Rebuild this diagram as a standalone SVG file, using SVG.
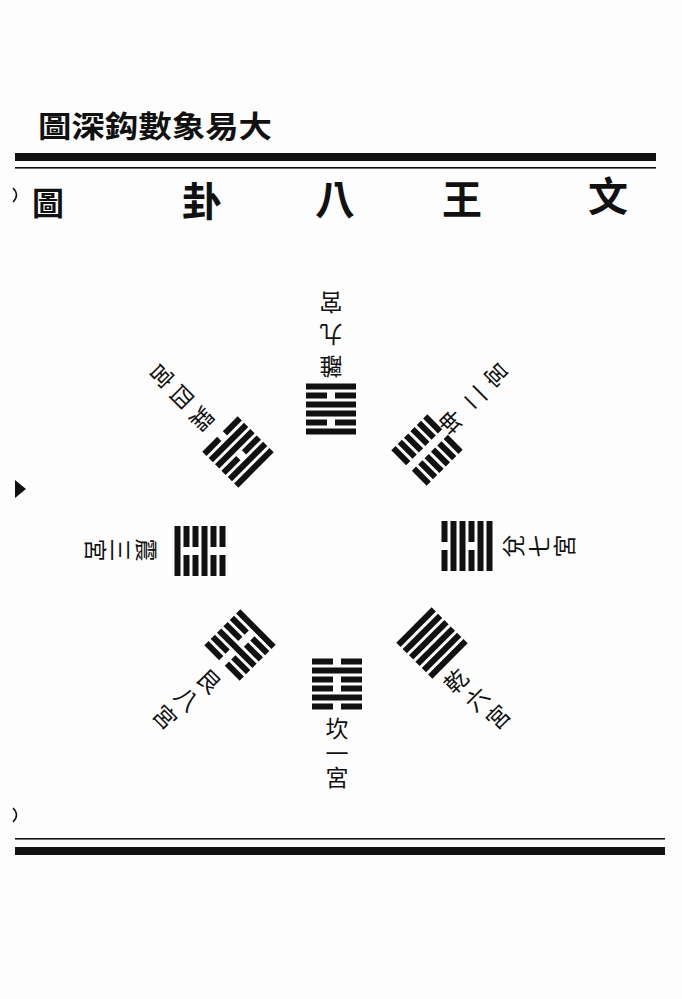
<svg xmlns="http://www.w3.org/2000/svg" xmlns:xlink="http://www.w3.org/1999/xlink" width="682" height="999" viewBox="0 0 682 999">
<style>
.t{font-family:"Noto Sans CJK TC","Noto Sans CJK SC",serif;fill:#111;text-anchor:middle;dominant-baseline:central}
.h1{font-size:30px;font-weight:700}
.h2{font-size:40px;font-weight:700}
.lb{font-size:23px;font-weight:400}
.vt{font-family:"Noto Sans CJK TC","Noto Sans CJK SC",serif;fill:#111;font-size:23px;writing-mode:vertical-rl;text-anchor:start;dominant-baseline:central;letter-spacing:1.5px}
.bar{fill:#111}
</style>
<defs>
<g id="yang"><rect class="bar" x="-25" y="-3" width="50" height="6"/></g>
<g id="yin"><rect class="bar" x="-25" y="-3" width="21" height="6"/><rect class="bar" x="4" y="-3" width="21" height="6"/></g>
</defs>
<rect width="682" height="999" fill="#fdfdfd"/>

<g id="header">
<text class="t h1" x="155" y="124" textLength="234" lengthAdjust="spacingAndGlyphs">圖深鈎數象易大</text>
<rect x="15" y="153" width="641" height="8" fill="#111"/>
<rect x="15" y="167" width="641" height="1.6" fill="#111"/>
<text class="t h2" x="48" y="201" style="font-size:32px">圖</text>
<text class="t h2" x="202" y="199">卦</text>
<text class="t h2" x="335" y="197">八</text>
<text class="t h2" x="462" y="197">王</text>
<text class="t h2" x="608" y="194">文</text>
<path d="M13,188 Q20,195 13,202" fill="none" stroke="#111" stroke-width="1.5"/>
<polygon points="15,480 26,489 15,498" fill="#111"/>
<path d="M13,808 Q20,815 13,822" fill="none" stroke="#111" stroke-width="1.5"/>
<rect x="15" y="838" width="650" height="1.6" fill="#111"/>
<rect x="15" y="847" width="650" height="8" fill="#111"/>
</g>

<g id="li">
<g transform="translate(331,409) rotate(180)">
<use href="#yang" y="22.5"/><use href="#yin" y="13.5"/><use href="#yang" y="4.5"/><use href="#yang" y="-4.5"/><use href="#yin" y="-13.5"/><use href="#yang" y="-22.5"/>
</g>
<text class="t lb" transform="rotate(180,331,368)" x="331" y="368">離</text>
<text class="t lb" transform="rotate(180,331,336)" x="331" y="336">九</text>
<text class="t lb" transform="rotate(180,331,304)" x="331" y="304">宮</text>
</g>

<g id="kun">
<g transform="translate(427,450) rotate(-135)">
<use href="#yin" y="22.5"/><use href="#yin" y="13.5"/><use href="#yin" y="4.5"/><use href="#yin" y="-4.5"/><use href="#yin" y="-13.5"/><use href="#yin" y="-22.5"/>
</g>
<text class="t lb" transform="rotate(-135,450,423)" x="450" y="423">坤</text>
<text class="t lb" transform="rotate(-135,474,399)" x="474" y="399">二</text>
<text class="t lb" transform="rotate(-135,495,376)" x="495" y="376">宮</text>
</g>

<g id="dui">
<g transform="translate(467,546) rotate(-90)">
<use href="#yang" y="22.5"/><use href="#yang" y="13.5"/><use href="#yin" y="4.5"/><use href="#yang" y="-4.5"/><use href="#yang" y="-13.5"/><use href="#yin" y="-22.5"/>
</g>
<text class="t lb" transform="rotate(-90,512,546)" x="512" y="546">兌</text>
<text class="t lb" transform="rotate(-90,538,546)" x="538" y="546">七</text>
<text class="t lb" transform="rotate(-90,563,546)" x="563" y="546">宮</text>
</g>

<g id="qian">
<g transform="translate(432,643) rotate(-45)">
<use href="#yang" y="22.5"/><use href="#yang" y="13.5"/><use href="#yang" y="4.5"/><use href="#yang" y="-4.5"/><use href="#yang" y="-13.5"/><use href="#yang" y="-22.5"/>
</g>
<text class="t lb" transform="rotate(-45,455,680)" x="455" y="680">乾</text>
<text class="t lb" transform="rotate(-45,476,698)" x="476" y="698">六</text>
<text class="t lb" transform="rotate(-45,497,716)" x="497" y="716">宮</text>
</g>

<g id="kan">
<g transform="translate(337,684)">
<use href="#yin" y="22.5"/><use href="#yang" y="13.5"/><use href="#yin" y="4.5"/><use href="#yin" y="-4.5"/><use href="#yang" y="-13.5"/><use href="#yin" y="-22.5"/>
</g>
<text class="vt" x="337" y="717">坎一宮</text>
</g>

<g id="gen">
<g transform="translate(240,645) rotate(45)">
<use href="#yin" y="22.5"/><use href="#yin" y="13.5"/><use href="#yang" y="4.5"/><use href="#yin" y="-4.5"/><use href="#yin" y="-13.5"/><use href="#yang" y="-22.5"/>
</g>
<text class="t lb" transform="rotate(45,210,680)" x="210" y="680">艮</text>
<text class="t lb" transform="rotate(45,188,698)" x="188" y="698">八</text>
<text class="t lb" transform="rotate(45,166,716)" x="166" y="716">宮</text>
</g>

<g id="zhen">
<g transform="translate(200,551) rotate(90)">
<use href="#yang" y="22.5"/><use href="#yin" y="13.5"/><use href="#yin" y="4.5"/><use href="#yang" y="-4.5"/><use href="#yin" y="-13.5"/><use href="#yin" y="-22.5"/>
</g>
<text class="t lb" transform="rotate(90,148,550)" x="148" y="550">震</text>
<text class="t lb" transform="rotate(90,122,550)" x="122" y="550">三</text>
<text class="t lb" transform="rotate(90,97,550)" x="97" y="550">宮</text>
</g>

<g id="xun">
<g transform="translate(238,452) rotate(135)">
<use href="#yin" y="22.5"/><use href="#yang" y="13.5"/><use href="#yang" y="4.5"/><use href="#yin" y="-4.5"/><use href="#yang" y="-13.5"/><use href="#yang" y="-22.5"/>
</g>
<text class="t lb" transform="rotate(135,203,420)" x="203" y="420">巽</text>
<text class="t lb" transform="rotate(135,183,398)" x="183" y="398">四</text>
<text class="t lb" transform="rotate(135,163,377)" x="163" y="377">宮</text>
</g>
</svg>
